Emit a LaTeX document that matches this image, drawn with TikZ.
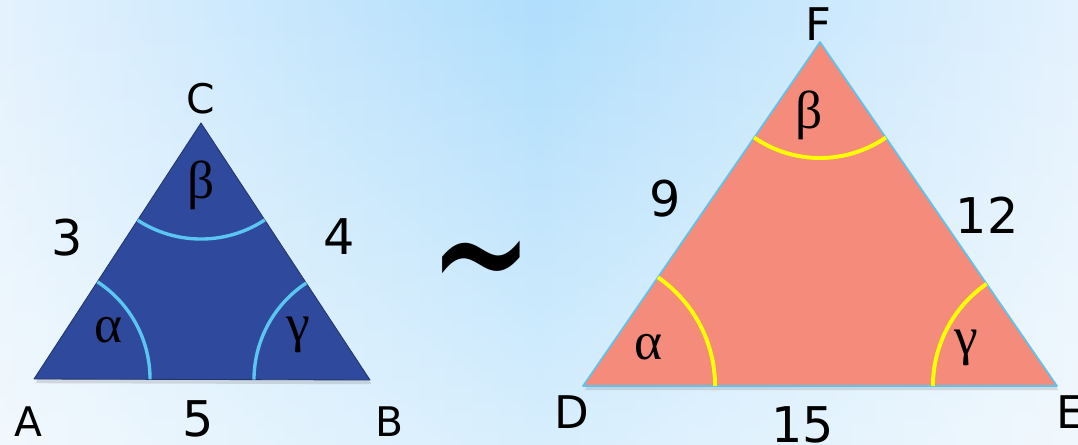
\documentclass[tikz,border=0pt]{standalone}
\usepackage{fontspec}
\newfontfamily\lblfont{DejaVu Sans}
\newfontfamily\grkfont{Liberation Serif}
\usetikzlibrary{angles,shadows,fadings}
\definecolor{bgmid}{HTML}{B0DEFC}
\definecolor{bgside}{HTML}{E4F2FD}
\definecolor{smallfill}{HTML}{2F4A9C}
\definecolor{smallarc}{HTML}{5CC6F2}
\definecolor{bigfill}{HTML}{F48B7B}
\definecolor{bigedge}{HTML}{5BC4EE}
\definecolor{bigarc}{HTML}{FFFF00}
\tikzset{
  smalltri/.style={fill=smallfill,draw=smallfill!70!black,line width=0.6pt,line join=round,
    drop shadow={shadow xshift=1pt,shadow yshift=-3pt,opacity=0.25}},
  bigtri/.style={fill=bigfill,draw=bigedge,line width=1.2pt,line join=round,
    drop shadow={shadow xshift=1pt,shadow yshift=-3pt,opacity=0.25}},
  smallang/.style={draw=smallarc,line width=2.4pt},
  bigang/.style={draw=bigarc,line width=2.8pt},
  smallvtx/.style={inner sep=0pt,font=\lblfont\fontsize{29}{32}\selectfont},
  bigvtx/.style={inner sep=0pt,font=\lblfont\fontsize{32}{35}\selectfont},
  sidelen/.style={inner sep=0pt,font=\lblfont\fontsize{35}{38}\selectfont},
  greek/.style={inner sep=0pt,font=\grkfont\fontsize{38}{40}\selectfont},
  simsign/.style={inner sep=0pt,font=\lblfont\fontsize{88}{90}\selectfont}
}
\begin{document}
\begin{tikzpicture}[x=0.025cm,y=0.025cm]
\useasboundingbox (0,0) rectangle (1078,445);
\shade[left color=bgside,right color=bgside,middle color=bgmid] (0,0) rectangle (1078,445);
\fill[white,opacity=0.5,path fading=north] (0,0) rectangle (1078,445);

\coordinate (A) at (34,66);
\coordinate (B) at (370,65);
\coordinate (C) at (201,322);
\filldraw[smalltri] (A) -- (B) -- (C) -- cycle;
\pic[smallang,angle radius=2.9cm] {angle=B--A--C};
\pic[smallang,angle radius=2.9cm] {angle=A--C--B};
\pic[smallang,angle radius=2.9cm] {angle=C--B--A};
\node[smallvtx] (labA) at (28,23) {A};
\node[smallvtx] (labB) at (389,23) {B};
\node[smallvtx] (labC) at (201,346) {C};
\node[sidelen] (labAC) at (67,207) {3};
\node[sidelen] (labBC) at (339,208) {4};
\node[sidelen] (labAB) at (198,26) {5};
\node[greek] (angA) at (108,115) {α};
\node[greek] (angC) at (201,260) {β};
\node[greek] (angB) at (298,110) {γ};

\node[simsign] (sim) at (481,166) {\scalebox{1}[1.55]{\textasciitilde}};

\coordinate (D) at (583,59);
\coordinate (E) at (1057,59);
\coordinate (F) at (820,403);
\filldraw[bigtri] (D) -- (E) -- (F) -- cycle;
\pic[bigang,angle radius=3.3cm] {angle=E--D--F};
\pic[bigang,angle radius=2.9cm] {angle=D--F--E};
\pic[bigang,angle radius=3.1cm] {angle=F--E--D};
\node[bigvtx] (labD) at (572,33) {D};
\node[bigvtx] (labE) at (1071,33) {E};
\node[bigvtx] (labF) at (818,421) {F};
\node[sidelen] (labDF) at (665,246) {9};
\node[sidelen] (labEF) at (987,230) {12};
\node[sidelen] (labDE) at (803,20) {15};
\node[greek] (angD) at (648,98) {α};
\node[greek] (angF) at (809,330) {β};
\node[greek] (angE) at (966,97) {γ};
\end{tikzpicture}
\end{document}
